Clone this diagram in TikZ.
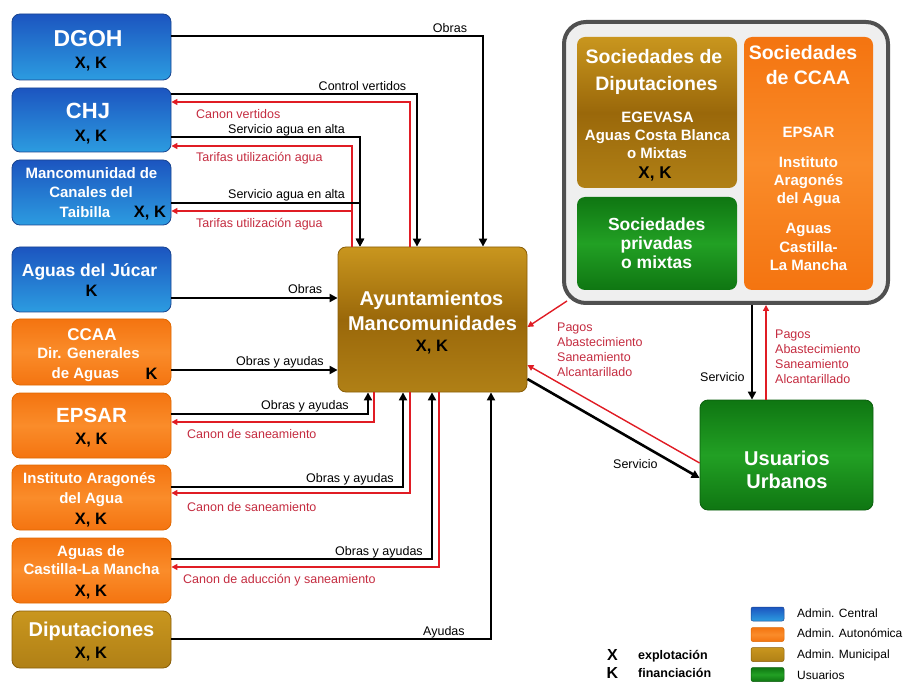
\documentclass[tikz,border=0pt]{standalone}
\usepackage{fontspec}
\setmainfont{Liberation Sans}
\usetikzlibrary{arrows.meta,calc}
\definecolor{blueT}{HTML}{1C55C0}
\definecolor{blueB}{HTML}{2C9CE0}
\definecolor{blueD}{HTML}{1A4590}
\definecolor{orgE}{HTML}{F47410}
\definecolor{orgM}{HTML}{FA8C2A}
\definecolor{orgD}{HTML}{E06800}
\definecolor{goldT}{HTML}{C9961E}
\definecolor{goldM}{HTML}{9A680A}
\definecolor{goldB}{HTML}{B08016}
\definecolor{goldD}{HTML}{8A5E08}
\definecolor{grnE}{HTML}{0F7612}
\definecolor{grnM}{HTML}{22A024}
\definecolor{grnD}{HTML}{0B5E0D}
\definecolor{redL}{HTML}{E01C24}
\definecolor{redT}{HTML}{C42C40}
\definecolor{contD}{HTML}{505050}
\definecolor{contF}{HTML}{EFEFEF}
\tikzset{
  bx/.style={rounded corners=8pt, inner sep=0pt, line width=0.8pt},
  blu/.style={bx, draw=blueD, top color=blueT, bottom color=blueB},
  org/.style={bx, draw=orgD, top color=orgE, bottom color=orgE, middle color=orgM},
  gld/.style={bx, draw=goldD, top color=goldT, bottom color=goldB},
  gldm/.style={bx, draw=goldD, top color=goldT, bottom color=goldB, middle color=goldM},
  grn/.style={bx, draw=grnD, top color=grnE, bottom color=grnE, middle color=grnM},
  lbox/.style={minimum width=159pt, minimum height=#1},
  wt/.style={text=white, font=\bfseries\fontsize{#1}{#1}\selectfont, inner sep=0pt, anchor=base},
  kt/.style={text=black, font=\bfseries\fontsize{#1}{#1}\selectfont, inner sep=0pt, anchor=base},
  cl/.style={text=black, font=\fontsize{12.5}{12.5}\selectfont, inner sep=0pt, anchor=base west},
  rl/.style={text=redT, font=\fontsize{12.5}{12.5}\selectfont, inner sep=0pt, anchor=base west},
  lg/.style={text=black, font=\fontsize{12}{12}\selectfont, inner sep=0pt, anchor=base west},
  blk/.style={line width=2.6pt, draw=black, -{Triangle[length=8pt,width=8pt]}},
  rdl/.style={line width=1.4pt, draw=redL, -{Triangle[length=6pt,width=6pt]}},
  lgbox/.style={rounded corners=2pt, inner sep=0pt, minimum width=33pt, minimum height=14pt, line width=0.5pt}
}
\begin{document}
\begin{tikzpicture}[x=1pt,y=-1pt]
\useasboundingbox (0,0) rectangle (907,684);

% ---------- left boxes ----------
\node[blu, lbox=66pt] (dgoh) at (91.5,47) {};
\node[wt=23] (tdgoh) at (88,46.7) {DGOH};
\node[kt=16.5] (xdgoh) at (91,68.4) {X, K};

\node[blu, lbox=64pt] (chj) at (91.5,120) {};
\node[wt=22] (tchj) at (88,118.4) {CHJ};
\node[kt=16.5] (xchj) at (91,141.9) {X, K};

\node[blu, lbox=65pt] (manc) at (91.5,192.5) {};
\node[wt=15] (tmanc1) at (91.5,178.4) {Mancomunidad de};
\node[wt=15] (tmanc2) at (91,197.4) {Canales del};
\node[wt=15] (tmanc3) at (85,217.4) {Taibilla};
\node[kt=16.5] (xmanc) at (150,217.9) {X, K};

\node[blu, lbox=65pt] (jucar) at (91.5,279.5) {};
\node[wt=17.5] (tjucar) at (89.5,276.3) {Aguas del Júcar};
\node[kt=16.5] (xjucar) at (91.5,297) {K};

\node[org, lbox=66pt] (ccaa) at (91.5,352) {};
\node[wt=17] (tccaa1) at (92,340.1) {CCAA};
\node[wt=15] (tccaa2) at (88.5,358.4) {Dir. Generales};
\node[wt=15] (tccaa3) at (85.5,378.9) {de Aguas};
\node[kt=16.5] (xccaa) at (151.5,379) {K};

\node[org, lbox=65pt] (epsar) at (91.5,425.5) {};
\node[wt=20.5] (tepsar) at (91.5,422.3) {EPSAR};
\node[kt=16.5] (xepsar) at (91.5,444.9) {X, K};

\node[org, lbox=65pt] (iaa) at (91.5,497.5) {};
\node[wt=15] (tiaa1) at (89.5,483.9) {Instituto Aragonés};
\node[wt=15] (tiaa2) at (91,503.4) {del Agua};
\node[kt=16.5] (xiaa) at (91,524.4) {X, K};

\node[org, lbox=65pt] (aclm) at (91.5,570.5) {};
\node[wt=15] (taclm1) at (91,556.4) {Aguas de};
\node[wt=15] (taclm2) at (91.5,574.9) {Castilla-La Mancha};
\node[kt=16.5] (xaclm) at (91,596.4) {X, K};

\node[gld, lbox=57pt] (dip) at (91.5,639.5) {};
\node[wt=20] (tdip) at (91.5,636.2) {Diputaciones};
\node[kt=16.5] (xdip) at (91,658.9) {X, K};

% ---------- central box ----------
\node[gldm, minimum width=189pt, minimum height=145pt] (ayunt) at (432.5,319.5) {};
\node[wt=20] (tay1) at (431.5,305.2) {Ayuntamientos};
\node[wt=20] (tay2) at (432.5,330.7) {Mancomunidades};
\node[kt=16.5] (xay) at (432,351.4) {X, K};

% ---------- container ----------
\node[draw=contD, fill=contF, line width=4pt, rounded corners=22pt, minimum width=324pt, minimum height=281pt, inner sep=0pt] (cont) at (726,162.5) {};
\node[gldm, draw=none, minimum width=160pt, minimum height=151pt] (sdip) at (657,112.5) {};
\node[wt=19.5] (tsd1) at (654,63.5) {Sociedades de};
\node[wt=19.5] (tsd2) at (656.5,90.5) {Diputaciones};
\node[wt=15] (tsd3) at (657.5,122.4) {EGEVASA};
\node[wt=15] (tsd4) at (657.5,140.4) {Aguas Costa Blanca};
\node[wt=15] (tsd5) at (657,158.4) {o Mixtas};
\node[kt=17] (xsd) at (655,178.6) {X, K};

\node[grn, draw=none, minimum width=160pt, minimum height=93pt] (spriv) at (657,243.5) {};
\node[wt=17.5] (tsp1) at (656.7,230.3) {Sociedades};
\node[wt=17.5] (tsp2) at (656.7,249.3) {privadas};
\node[wt=17.5] (tsp3) at (656.7,268.3) {o mixtas};

\node[org, draw=none, minimum width=129pt, minimum height=253pt] (sccaa) at (808.5,163.5) {};
\node[wt=19.5] (tsc1) at (803,59.5) {Sociedades};
\node[wt=19.5] (tsc2) at (808,84.5) {de CCAA};
\node[wt=15] (tsc3) at (808.5,137.9) {EPSAR};
\node[wt=15] (tsc4) at (808.5,167.4) {Instituto};
\node[wt=15] (tsc5) at (808.5,185.4) {Aragonés};
\node[wt=15] (tsc6) at (808.5,203.4) {del Agua};
\node[wt=15] (tsc7) at (808.5,233.4) {Aguas};
\node[wt=15] (tsc8) at (808.5,252.4) {Castilla-};
\node[wt=15] (tsc9) at (808.5,270.4) {La Mancha};

% ---------- usuarios ----------
\node[grn, minimum width=173pt, minimum height=110pt] (usu) at (786.5,455) {};
\node[wt=20] (tusu1) at (787,465.7) {Usuarios};
\node[wt=20] (tusu2) at (787,488.7) {Urbanos};

% ---------- top connectors ----------
\draw[blk] (dgoh.east |- 0,36) -| (ayunt.north -| 483,0);
\node[cl, anchor=base] (lobras1) at (450,33) {Obras};

\draw[blk] (chj.east |- 0,94) -| (ayunt.north -| 417,0);
\node[cl, anchor=base] (lcontrol) at (362.5,91) {Control vertidos};
\draw[rdl] (ayunt.north -| 410,0) |- (chj.east |- 0,102);
\node[rl] (lcanonv) at (196,119) {Canon vertidos};

\draw[blk] (chj.east |- 0,137) -| (ayunt.north -| 360,0);
\node[cl] (lserv1) at (228,134) {Servicio agua en alta};
\draw[rdl] (ayunt.north -| 352,0) |- (chj.east |- 0,146);
\node[rl] (ltar1) at (196,162) {Tarifas utilización agua};

\draw[blk] (manc.east |- 0,203) -| (ayunt.north -| 360,0);
\node[cl] (lserv2) at (228,199) {Servicio agua en alta};
\draw[rdl] (ayunt.north -| 352,0) |- (manc.east |- 0,211);
\node[rl] (ltar2) at (196,228) {Tarifas utilización agua};

% ---------- side connectors ----------
\draw[blk] (jucar.east |- 0,298) -- (ayunt.west |- 0,298);
\node[cl] (lobras2) at (288,293.5) {Obras};
\draw[blk] (ccaa.east |- 0,370) -- (ayunt.west |- 0,370);
\node[cl] (loya1) at (236,366) {Obras y ayudas};

% ---------- bottom connectors ----------
\draw[blk] (epsar.east |- 0,414) -| (ayunt.south -| 368,0);
\node[cl] (loya2) at (261,409.5) {Obras y ayudas};
\draw[rdl] (ayunt.south -| 374,0) |- (epsar.east |- 0,422);
\node[rl] (lcs1) at (187,438) {Canon de saneamiento};

\draw[blk] (iaa.east |- 0,487) -| (ayunt.south -| 403,0);
\node[cl] (loya3) at (306,482.5) {Obras y ayudas};
\draw[rdl] (ayunt.south -| 410,0) |- (iaa.east |- 0,493);
\node[rl] (lcs2) at (187,511.5) {Canon de saneamiento};

\draw[blk] (aclm.east |- 0,559) -| (ayunt.south -| 432,0);
\node[cl] (loya4) at (335,555) {Obras y ayudas};
\draw[rdl] (ayunt.south -| 439,0) |- (aclm.east |- 0,567);
\node[rl] (lcs3) at (183,583.5) {Canon de aducción y saneamiento};

\draw[blk] (dip.east |- 0,639) -| (ayunt.south -| 491,0);
\node[cl] (layu) at (423,635) {Ayudas};

% ---------- right connectors ----------
\draw[rdl] ($(cont.south west)+(5,-4)$) -- (ayunt.east |- 0,327);
\foreach \t [count=\i] in {Pagos, Abastecimiento, Saneamiento, Alcantarillado}
  \node[rl] (pl\i) at (557,{332+14.9*(\i-1)}) {\t};
\draw[rdl] (usu.west |- 0,463) -- (ayunt.east |- 0,365);
\draw[blk] (ayunt.east |- 0,379) -- (usu.west |- 0,478);
\node[cl] (lservd) at (613,468) {Servicio};

\draw[blk] (cont.south -| 752,0) -- (usu.north -| 752,0);
\node[cl] (lservv) at (700,381.5) {Servicio};
\draw[rdl] (usu.north -| 766,0) -- (cont.south -| 766,0);
\foreach \t [count=\i] in {Pagos, Abastecimiento, Saneamiento, Alcantarillado}
  \node[rl] (pr\i) at (775,{338+15.3*(\i-1)}) {\t};

% ---------- legend ----------
\node[lgbox, draw=blueD, top color=blueT, bottom color=blueB] (lgb) at (767.5,614) {};
\node[lgbox, draw=orgD, top color=orgE, bottom color=orgE, middle color=orgM] (lgo) at (767.5,634.5) {};
\node[lgbox, draw=goldD, top color=goldT, bottom color=goldB] (lgg) at (767.5,654.5) {};
\node[lgbox, draw=grnD, top color=grnE, bottom color=grnE, middle color=grnM] (lgv) at (767.5,674.5) {};
\node[lg] (lgt1) at (797,617.3) {Admin. Central};
\node[lg] (lgt2) at (797,637.8) {Admin. Autonómica};
\node[lg] (lgt3) at (797,658.3) {Admin. Municipal};
\node[lg] (lgt4) at (797,679.3) {Usuarios};
\node[kt=16] (lgx) at (612.5,660.7) {X};
\node[kt=12.5, anchor=base west] (lgxt) at (638,659.5) {explotación};
\node[kt=16] (lgk) at (612.5,678.7) {K};
\node[kt=12.5, anchor=base west] (lgkt) at (638,677.5) {financiación};
\end{tikzpicture}
\end{document}
